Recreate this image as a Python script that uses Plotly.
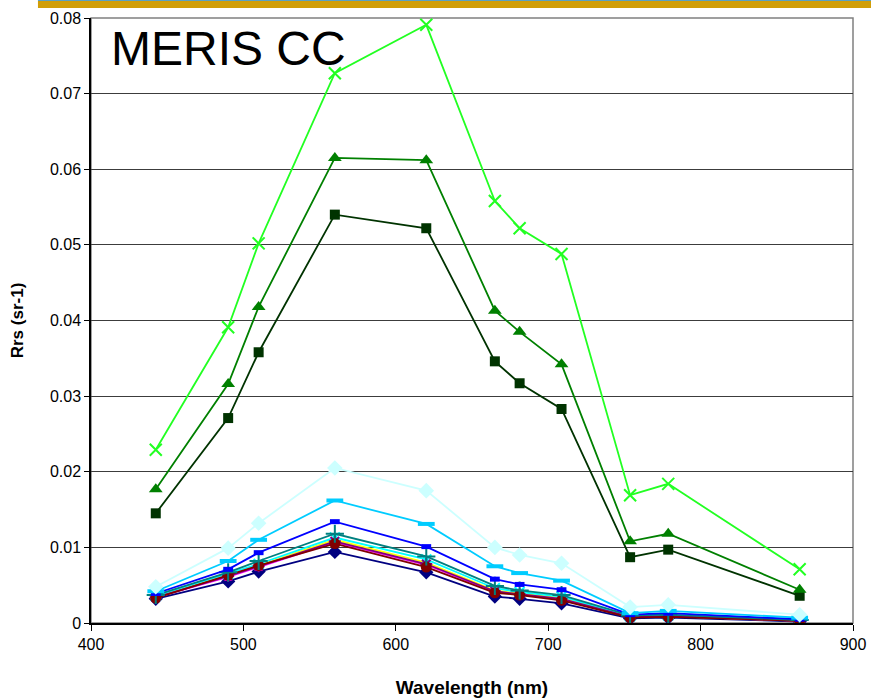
import plotly.graph_objects as go

# MERIS band centres (nm)
wavelength = [442.5, 490, 510, 560, 620, 665, 681.25, 708.75, 753.75, 778.75, 865]

# Remote-sensing reflectance spectra, Rrs (sr-1), one list per station
rrs_s1 = [0.0032, 0.0055, 0.0068, 0.0094, 0.0067, 0.0035, 0.0032, 0.0026, 0.0006, 0.0007, 0.0002]
rrs_s2 = [0.0034, 0.0061, 0.0074, 0.0107, 0.0077, 0.0041, 0.0038, 0.0031, 0.0008, 0.0009, 0.0003]
rrs_s3 = [0.0035, 0.0063, 0.0076, 0.0110, 0.0080, 0.0043, 0.0039, 0.0033, 0.0008, 0.0009, 0.0003]
rrs_s4 = [0.0036, 0.0065, 0.0078, 0.0113, 0.0084, 0.0046, 0.0041, 0.0035, 0.0009, 0.0010, 0.0004]
rrs_s5 = [0.0034, 0.0062, 0.0075, 0.0108, 0.0078, 0.0042, 0.0038, 0.0032, 0.0008, 0.0009, 0.0003]
rrs_s6 = [0.0033, 0.0063, 0.0076, 0.0105, 0.0074, 0.0040, 0.0037, 0.0030, 0.0007, 0.0008, 0.0003]
rrs_s7 = [0.0037, 0.0067, 0.0082, 0.0118, 0.0088, 0.0049, 0.0043, 0.0037, 0.0010, 0.0011, 0.0004]
rrs_s8 = [0.0039, 0.0071, 0.0093, 0.0134, 0.0101, 0.0058, 0.0051, 0.0044, 0.0011, 0.0013, 0.0005]
rrs_s9 = [0.0042, 0.0082, 0.0110, 0.0162, 0.0131, 0.0075, 0.0066, 0.0056, 0.0013, 0.0016, 0.0007]
rrs_s10 = [0.0048, 0.0099, 0.0132, 0.0205, 0.0175, 0.0100, 0.0090, 0.0079, 0.0021, 0.0024, 0.0011]
rrs_s11 = [0.0145, 0.0271, 0.0358, 0.0540, 0.0522, 0.0346, 0.0317, 0.0283, 0.0087, 0.0097, 0.0036]
rrs_s12 = [0.0177, 0.0316, 0.0418, 0.0615, 0.0612, 0.0413, 0.0385, 0.0342, 0.0108, 0.0118, 0.0044]
rrs_s13 = [0.0229, 0.0391, 0.0502, 0.0727, 0.0791, 0.0558, 0.0522, 0.0488, 0.0169, 0.0184, 0.0071]

x_ticks = [400, 500, 600, 700, 800, 900]
y_ticks = [0, 0.01, 0.02, 0.03, 0.04, 0.05, 0.06, 0.07, 0.08]
y_tick_text = ["0", "0.01", "0.02", "0.03", "0.04", "0.05", "0.06", "0.07", "0.08"]

# (values, colour, marker symbol, marker size, open-symbol line width)
series = [
    (rrs_s1, "#000080", "diamond", 11, 0),
    (rrs_s2, "#FF00FF", "square", 8, 0),
    (rrs_s3, "#FFFF00", "triangle-up", 10, 0),
    (rrs_s4, "#00FFFF", "x-thin-open", 10, 2),
    (rrs_s5, "#800080", "asterisk-open", 10, 2),
    (rrs_s6, "#800000", "circle", 11, 0),
    (rrs_s7, "#008080", "cross-thin-open", 13, 2),
    (rrs_s8, "#0000FF", "line-ew-open", 7, 5),
    (rrs_s9, "#00CCFF", "line-ew-open", 12, 4),
    (rrs_s10, "#CCFFFF", "diamond", 12, 0),
    (rrs_s11, "#003300", "square", 10, 0),
    (rrs_s12, "#008000", "triangle-up", 12, 0),
    (rrs_s13, "#22FF22", "x-thin-open", 12, 2),
]

fig = go.Figure()
for i, (vals, col, sym, size, lw) in enumerate(series, start=1):
    marker = dict(symbol=sym, size=size, color=col)
    if lw:
        marker["line"] = dict(color=col, width=lw)
    else:
        marker["line"] = dict(width=0)
    fig.add_trace(go.Scatter(
        x=wavelength, y=vals, mode="lines+markers", name=f"Station {i}",
        line=dict(color=col, width=1.8), marker=marker,
    ))

font_family = "Liberation Sans, Arial, sans-serif"

fig.update_layout(
    width=871, height=698,
    margin=dict(l=91, r=18, t=18, b=75),
    paper_bgcolor="white", plot_bgcolor="white",
    showlegend=False,
    font=dict(family=font_family, size=16, color="black"),
    xaxis=dict(
        range=[400, 900], tickvals=x_ticks, ticks="outside", ticklen=6,
        tickcolor="black", showline=True, linecolor="black", linewidth=1.5,
        showgrid=False, zeroline=False, automargin=False,
        tickfont=dict(size=16),
        title=dict(text="<b>Wavelength (nm)</b>", font=dict(size=19), standoff=30),
    ),
    yaxis=dict(
        range=[0, 0.08], tickvals=y_ticks, ticktext=y_tick_text, ticks="outside",
        ticklen=5, tickcolor="black", showline=True, linecolor="black", linewidth=1.5,
        showgrid=True, gridcolor="#3C3C3C", gridwidth=1, zeroline=False,
        automargin=False,
        tickfont=dict(size=16),
        title=dict(text="<b>Rrs (sr-1)</b>", font=dict(size=17), standoff=22),
    ),
    shapes=[
        # plot-area frame (top and right edges)
        dict(type="rect", xref="paper", yref="paper", x0=0, x1=1, y0=0, y1=1,
             line=dict(color="#808080", width=1.5), layer="below"),
        # header band
        dict(type="rect", xref="paper", yref="paper", x0=-0.0696, x1=1.03,
             y0=1.0165, y1=1.028, fillcolor="#D19E08", line=dict(width=0)),
        dict(type="line", xref="paper", yref="paper", x0=-0.0696, x1=1.03,
             y0=1.0292, y1=1.0292, line=dict(color="#3A8FB7", width=1)),
    ],
    annotations=[
        dict(text="MERIS CC", xref="paper", yref="paper", x=0.023, y=0.950,
             xanchor="left", yanchor="middle", showarrow=False,
             font=dict(size=48, family=font_family, color="black")),
    ],
)

fig.write_html("out.html")
